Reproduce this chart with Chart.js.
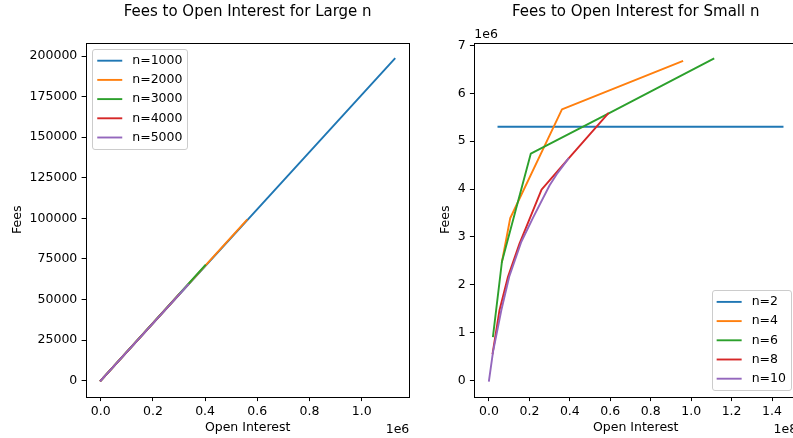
<!DOCTYPE html>
<html>
<head>
<meta charset="utf-8">
<script src="https://cdn.jsdelivr.net/npm/chart.js@4.4.1/dist/chart.umd.min.js"></script>
<style>
  html, body { margin: 0; padding: 0; background: #fff; overflow: hidden; width: 793px; height: 438px; }
  canvas { position: absolute; top: 0; }
  #large { left: 0; }
  #small { left: 410px; }
</style>
</head>
<body>
<canvas id="large" width="420" height="438" style="width:420px;height:438px"></canvas>
<canvas id="small" width="420" height="438" style="width:420px;height:438px"></canvas>
<script>
// ---- Large n: open interest vs fees ----
const largeLabels = ['n=1000', 'n=2000', 'n=3000', 'n=4000', 'n=5000'];
const oiN1000 = [0, 1126000];
const feesN1000 = [0, 198350];
const oiN2000 = [0, 559400];
const feesN2000 = [0, 98900];
const oiN3000 = [0, 400000];
const feesN3000 = [0, 71000];
const oiN4000 = [0, 300000];
const feesN4000 = [0, 53000];
const oiN5000 = [0, 335000];
const feesN5000 = [0, 59200];

// ---- Small n: open interest vs fees ----
const smallLabels = ['n=2', 'n=4', 'n=6', 'n=8', 'n=10'];
const oiN2 = [4.7e6, 145.2e6];
const feesN2 = [5.30e6, 5.30e6];
const oiN4 = [6.4e6, 10.5e6, 36.1e6, 95.6e6];
const feesN4 = [2.48e6, 3.39e6, 5.665e6, 6.67e6];
const oiN6 = [2.0e6, 6.4e6, 20.7e6, 59.0e6, 111.0e6];
const feesN6 = [0.93e6, 2.48e6, 4.74e6, 5.575e6, 6.72e6];
const oiN8 = [1.8e6, 5.2e6, 9.4e6, 15.1e6, 26.0e6, 39.2e6, 58.9e6];
const feesN8 = [0.57e6, 1.47e6, 2.17e6, 2.86e6, 3.99e6, 4.63e6, 5.575e6];
const oiN10 = [0, 2.0e6, 6.1e6, 10.0e6, 16.0e6, 22.0e6, 30.0e6, 33.5e6, 39.2e6];
const feesN10 = [0, 0.60e6, 1.47e6, 2.17e6, 2.90e6, 3.42e6, 4.08e6, 4.31e6, 4.63e6];

// ---- Tick values ----
const largeXTicks = [0, 200000, 400000, 600000, 800000, 1000000];
const largeYTicks = [0, 25000, 50000, 75000, 100000, 125000, 150000, 175000, 200000];
const smallXTicks = [0, 2e7, 4e7, 6e7, 8e7, 1e8, 1.2e8, 1.4e8];
const smallYTicks = [0, 1e6, 2e6, 3e6, 4e6, 5e6, 6e6, 7e6];

const palette = ['#1f77b4', '#ff7f0e', '#2ca02c', '#d62728', '#9467bd'];
const FONT = '"DejaVu Sans", "Liberation Sans", sans-serif';
const FS = 12.5;

// later series are painted over earlier ones
function series(labels, xs, ys) {
  return labels.map((label, i) => ({
    label,
    data: xs[i].map((x, j) => ({ x, y: ys[i][j] })),
    order: -i,
    borderColor: palette[i],
    backgroundColor: palette[i],
    borderWidth: 1.9,
    pointRadius: 0,
    pointHoverRadius: 0,
    showLine: true,
    tension: 0,
    borderJoinStyle: 'round',
    borderCapStyle: 'square',
    fill: false
  }));
}

// axis limits with 5% margins on each side of the data
function paddedRange(arrays) {
  const all = arrays.flat();
  const lo = Math.min(...all), hi = Math.max(...all);
  const m = (hi - lo) * 0.05;
  return { min: lo - m, max: hi + m };
}

function linearAxis(opts) {
  const isX = opts.axis === 'x';
  return {
    type: 'linear',
    position: isX ? 'bottom' : 'left',
    min: opts.range.min,
    max: opts.range.max,
    afterBuildTicks: s => { s.ticks = opts.ticks.map(v => ({ value: v })); },
    afterFit: s => { if (isX) s.height = opts.size; else s.width = opts.size; },
    ticks: {
      callback: opts.fmt,
      font: { family: FONT, size: FS },
      color: '#000',
      padding: isX ? 3.6 : 4.3,
      autoSkip: false,
      maxRotation: 0,
      minRotation: 0
    },
    grid: { display: true, drawOnChartArea: false, drawTicks: true, tickLength: 4.4, color: '#000', lineWidth: 1 },
    border: { display: false },
    title: {
      display: true,
      text: opts.title,
      font: { family: FONT, size: FS },
      color: '#000',
      padding: isX ? { top: 0, bottom: 2.3 } : { top: opts.titlePad, bottom: 0 }
    }
  };
}

// frame, heading, exponent labels and boxed legend
const decor = {
  id: 'decor',
  afterDatasetsDraw(chart, args, o) {
    const { ctx, chartArea: a } = chart;
    ctx.save();
    // axes frame
    ctx.strokeStyle = '#000';
    ctx.lineWidth = 1;
    const l = Math.round(a.left) + 0.5, t = Math.round(a.top) + 0.5;
    const r = Math.round(a.right) + 0.5, b = Math.round(a.bottom) + 0.5;
    ctx.strokeRect(l, t, r - l, b - t);

    // legend
    ctx.font = FS + 'px ' + FONT;
    const items = chart.data.datasets;
    const tw = Math.max(...items.map(d => ctx.measureText(d.label).width));
    const pad = 0.4 * FS, handle = 2 * FS, gap = 0.8 * FS, rowH = 13.5, spacing = 5.7;
    const w = pad + handle + gap + tw + pad;
    const h = 2 * pad + items.length * rowH + (items.length - 1) * spacing;
    const m = 0.5 * FS;
    const x0 = o.legend === 'tl' ? a.left + m : a.right - m - w;
    const y0 = o.legend === 'tl' ? a.top + m : a.bottom - m - h;
    ctx.beginPath();
    ctx.roundRect(Math.round(x0) + 0.5, Math.round(y0) + 0.5, Math.round(w), Math.round(h), 2.5);
    ctx.fillStyle = 'rgba(255,255,255,0.8)';
    ctx.fill();
    ctx.strokeStyle = '#cccccc';
    ctx.stroke();
    items.forEach((d, i) => {
      const cy = y0 + pad + i * (rowH + spacing) + rowH / 2;
      ctx.beginPath();
      ctx.moveTo(x0 + pad, cy);
      ctx.lineTo(x0 + pad + handle, cy);
      ctx.strokeStyle = d.borderColor;
      ctx.lineWidth = 1.9;
      ctx.lineCap = 'butt';
      ctx.stroke();
      ctx.fillStyle = '#000';
      ctx.textAlign = 'left';
      ctx.textBaseline = 'middle';
      ctx.fillText(d.label, x0 + pad + handle + gap, cy);
    });
    ctx.restore();
  },
  afterDraw(chart, args, o) {
    const { ctx, chartArea: a } = chart;
    ctx.save();
    ctx.fillStyle = '#000';
    ctx.textBaseline = 'alphabetic';
    // heading
    ctx.font = '15px ' + FONT;
    ctx.textAlign = 'center';
    ctx.fillText(o.heading, (a.left + a.right) / 2, 16);
    // exponent labels
    ctx.font = FS + 'px ' + FONT;
    if (o.xExp) {
      ctx.textAlign = 'right';
      ctx.fillText(o.xExp, a.right, 432.5);
    }
    if (o.yExp) {
      ctx.textAlign = 'left';
      ctx.fillText(o.yExp, a.left, 38.3);
    }
    ctx.restore();
  }
};

Chart.register(decor);

const common = {
  responsive: false,
  animation: false,
  devicePixelRatio: 1,
  events: []
};

new Chart(document.getElementById('large'), {
  type: 'scatter',
  data: {
    datasets: series(largeLabels,
      [oiN1000, oiN2000, oiN3000, oiN4000, oiN5000],
      [feesN1000, feesN2000, feesN3000, feesN4000, feesN5000])
  },
  options: Object.assign({}, common, {
    layout: { padding: { top: 42.7, right: 10.7, left: 0, bottom: 0 } },
    plugins: {
      legend: { display: false },
      title: { display: false },
      tooltip: { enabled: false },
      decor: { legend: 'tl', heading: 'Fees to Open Interest for Large n', xExp: '1e6' }
    },
    scales: {
      x: linearAxis({ axis: 'x', size: 41.3, ticks: largeXTicks,
        range: paddedRange([oiN1000, oiN2000, oiN3000, oiN4000, oiN5000]),
        fmt: v => (v / 1e6).toFixed(1), title: 'Open Interest' }),
      y: linearAxis({ axis: 'y', size: 86, ticks: largeYTicks, titlePad: 9.9,
        range: paddedRange([feesN1000, feesN2000, feesN3000, feesN4000, feesN5000]),
        fmt: v => String(v), title: 'Fees' })
    }
  })
});

new Chart(document.getElementById('small'), {
  type: 'scatter',
  data: {
    datasets: series(smallLabels,
      [oiN2, oiN4, oiN6, oiN8, oiN10],
      [feesN2, feesN4, feesN6, feesN8, feesN10])
  },
  options: Object.assign({}, common, {
    layout: { padding: { top: 42.7, right: 32.8, left: 0, bottom: 0 } },
    plugins: {
      legend: { display: false },
      title: { display: false },
      tooltip: { enabled: false },
      decor: { legend: 'br', heading: 'Fees to Open Interest for Small n', xExp: '1e8', yExp: '1e6' }
    },
    scales: {
      x: linearAxis({ axis: 'x', size: 41.3, ticks: smallXTicks,
        range: paddedRange([oiN2, oiN4, oiN6, oiN8, oiN10]),
        fmt: v => (v / 1e8).toFixed(1), title: 'Open Interest' }),
      y: linearAxis({ axis: 'y', size: 64.3, ticks: smallYTicks, titlePad: 28.2,
        range: paddedRange([feesN2, feesN4, feesN6, feesN8, feesN10]),
        fmt: v => String(Math.round(v / 1e6)), title: 'Fees' })
    }
  })
});
</script>
</body>
</html>
